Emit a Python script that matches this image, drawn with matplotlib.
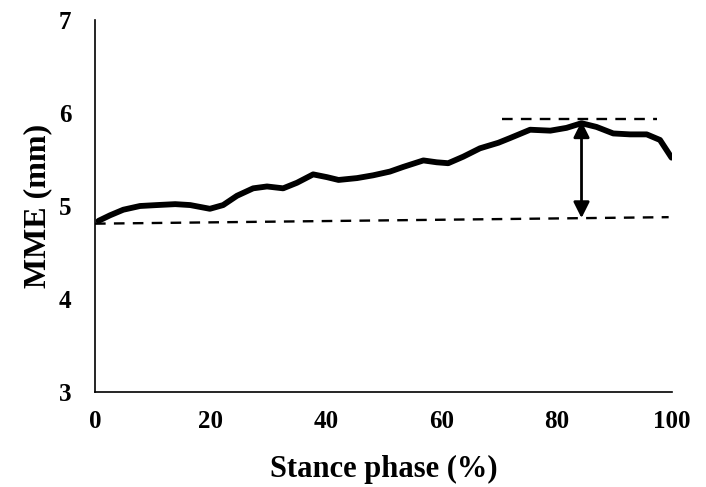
import numpy as np
import matplotlib.pyplot as plt

# Werte
stance = [0.6, 2.6, 4.9, 7.8, 10.7, 13.9, 16.5, 19.9, 22.2, 24.6, 27.4, 29.8, 32.6,
          35.0, 37.8, 40.2, 42.2, 45.4, 48.2, 51.1, 53.4, 56.9, 59.2, 61.2, 63.8,
          66.7, 69.9, 71.9, 75.4, 78.9, 81.7, 84.3, 86.9, 89.8, 92.7, 95.6, 97.9, 99.9]
mme = [4.84, 4.90, 4.96, 5.00, 5.01, 5.02, 5.01, 4.97, 5.01, 5.11, 5.19, 5.21, 5.19,
       5.25, 5.34, 5.31, 5.28, 5.30, 5.33, 5.37, 5.42, 5.49, 5.47, 5.46, 5.53,
       5.62, 5.68, 5.73, 5.82, 5.81, 5.84, 5.89, 5.85, 5.78, 5.77, 5.77, 5.71, 5.52]

lower_x = [0, 99.4]
lower_y = [4.81, 4.88]
upper_x = [70.5, 97.3]
upper_y = [5.93, 5.93]
arrow_x = 84.3
arrow_y = (4.87, 5.91)

plt.rcParams['font.family'] = ['Liberation Serif', 'DejaVu Serif']
plt.rcParams['font.weight'] = 'bold'

fig = plt.figure(figsize=(7.06, 4.87), dpi=100)
ax = fig.add_axes([0.1346, 0.195, 0.8174, 0.764])

ax.plot(stance, mme, color='black', lw=4.2, solid_capstyle='round', solid_joinstyle='round')
ax.plot(lower_x, lower_y, color='black', lw=1.7, ls=(0, (4.5, 3.5)))
ax.plot(upper_x, upper_y, color='black', lw=1.7, ls=(0, (4.5, 3.5)))
ax.annotate('', xy=(arrow_x, arrow_y[1]), xytext=(arrow_x, arrow_y[0]),
            arrowprops=dict(arrowstyle='<|-|>', color='black', lw=2.0,
                            mutation_scale=24, shrinkA=0, shrinkB=0))

ax.set_xlim(0, 100)
ax.set_ylim(3, 7)
ax.set_xticks([0, 20, 40, 60, 80, 100])
ax.set_yticks([3, 4, 5, 6, 7])
ax.tick_params(length=0, labelsize=18)
ax.tick_params(axis='x', pad=13)
ax.tick_params(axis='y', pad=17)
for lab in ax.get_xticklabels() + ax.get_yticklabels():
    lab.set_fontweight('bold')

for s in ['top', 'right']:
    ax.spines[s].set_visible(False)
for s in ['left', 'bottom']:
    ax.spines[s].set_linewidth(1.2)

ax.set_xlabel('Stance phase (%)', fontsize=22, fontweight='bold', labelpad=16)
ax.set_ylabel('MME (mm)', fontsize=23, fontweight='bold', labelpad=5)

fig.savefig('out.png', dpi=100)
